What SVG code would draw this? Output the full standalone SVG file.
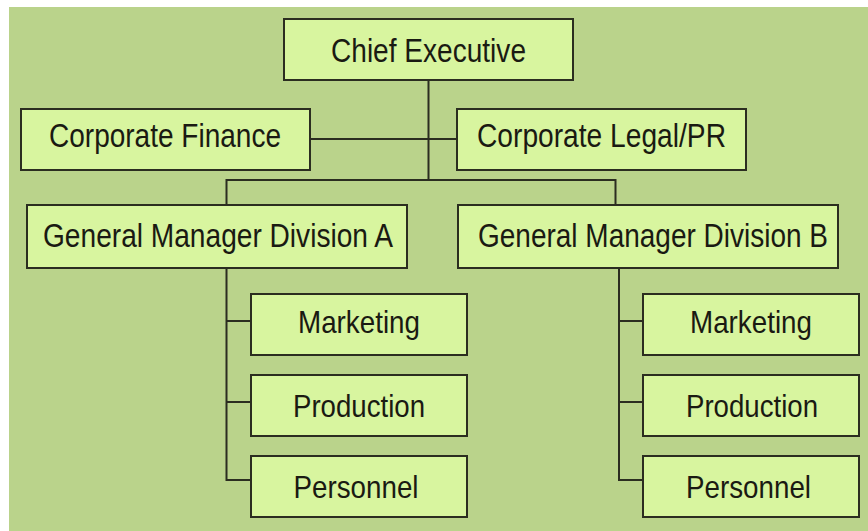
<svg xmlns="http://www.w3.org/2000/svg" width="868" height="531" viewBox="0 0 868 531">
<style>
.box{fill:#d8f59f;stroke:#2b2d20;stroke-width:2}
.lbl{font-family:"Liberation Sans",Arial,sans-serif;font-size:34px;fill:#1a1a12;text-anchor:middle}
.sm{font-size:32px}
.con{fill:none;stroke:#2b2d20;stroke-width:2}
</style>
<rect x="0" y="0" width="868" height="531" fill="#ffffff"/>
<rect x="9" y="7" width="859" height="524" fill="#bad38b"/>
<g id="connectors">
<path class="con" d="M428.5 80 V180 M310 139 H457 M226.5 205 V180 H615.5 V205"/>
<path class="con" d="M226.5 268 V480 H251 M226.5 321 H251 M226.5 402 H251"/>
<path class="con" d="M619 268 V480 H643 M619 321 H643 M619 402 H643"/>
</g>
<g id="chief"><rect class="box" x="284" y="19" width="289" height="61"/><text class="lbl" x="428.5" y="62" textLength="195" lengthAdjust="spacingAndGlyphs">Chief Executive</text></g>
<g id="finance"><rect class="box" x="21" y="109" width="289" height="61"/><text class="lbl" x="165" y="147" textLength="232" lengthAdjust="spacingAndGlyphs">Corporate Finance</text></g>
<g id="legal"><rect class="box" x="457" y="109" width="289" height="61"/><text class="lbl" x="601.5" y="147" textLength="249" lengthAdjust="spacingAndGlyphs">Corporate Legal/PR</text></g>
<g id="gmA"><rect class="box" x="27" y="205" width="380" height="63"/><text class="lbl" x="218" y="247" textLength="350" lengthAdjust="spacingAndGlyphs">General Manager Division A</text></g>
<g id="gmB"><rect class="box" x="458" y="205" width="380" height="63"/><text class="lbl" x="653" y="247" textLength="350" lengthAdjust="spacingAndGlyphs">General Manager Division B</text></g>
<g id="mktA"><rect class="box" x="251" y="294" width="216" height="61"/><text class="lbl sm" x="359" y="333" textLength="122" lengthAdjust="spacingAndGlyphs">Marketing</text></g>
<g id="prodA"><rect class="box" x="251" y="375" width="216" height="61"/><text class="lbl sm" x="359" y="417" textLength="132" lengthAdjust="spacingAndGlyphs">Production</text></g>
<g id="persA"><rect class="box" x="251" y="456" width="216" height="61"/><text class="lbl sm" x="356" y="498" textLength="125" lengthAdjust="spacingAndGlyphs">Personnel</text></g>
<g id="mktB"><rect class="box" x="643" y="294" width="216" height="61"/><text class="lbl sm" x="751" y="333" textLength="122" lengthAdjust="spacingAndGlyphs">Marketing</text></g>
<g id="prodB"><rect class="box" x="643" y="375" width="216" height="61"/><text class="lbl sm" x="752" y="417" textLength="132" lengthAdjust="spacingAndGlyphs">Production</text></g>
<g id="persB"><rect class="box" x="643" y="456" width="216" height="61"/><text class="lbl sm" x="748.5" y="498" textLength="125" lengthAdjust="spacingAndGlyphs">Personnel</text></g>
</svg>
